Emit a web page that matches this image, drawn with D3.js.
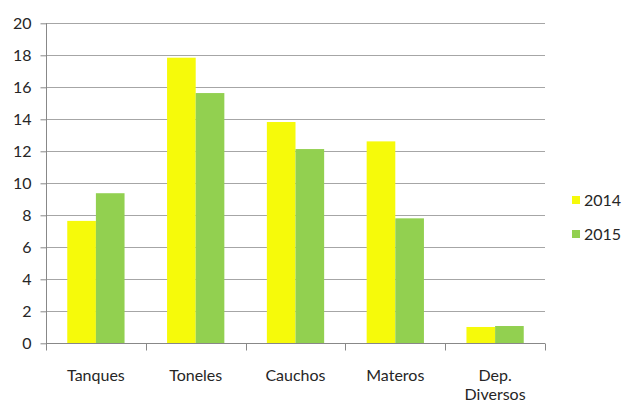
<!DOCTYPE html>
<html><head><meta charset="utf-8">
<script src="https://cdn.jsdelivr.net/npm/d3@7"></script>
<style>body{margin:0;background:#fff}svg{display:block}</style>
</head><body>
<svg id="c" width="623" height="408"></svg>
<script>
const categories = ["Tanques", "Toneles", "Cauchos", "Materos", "Dep. Diversos"];
const series2014 = [7.65, 17.85, 13.83, 12.62, 1.02];
const series2015 = [9.38, 15.64, 12.14, 7.81, 1.08];
const seriesNames = ["2014", "2015"];
const colors = ["#f6fa0a", "#92d050"];
const yTicks = [0, 2, 4, 6, 8, 10, 12, 14, 16, 18, 20];

const svg = d3.select("#c");
const font = "Lato, 'Open Sans', sans-serif";
const fs = 16;
const m = {left: 46, right: 545, top: 23.3, bottom: 343.3};

const x = d3.scaleBand().domain(categories).range([m.left, m.right]).paddingInner(0).paddingOuter(0);
const y = d3.scaleLinear().domain([0, 20]).range([m.bottom, m.top]);
const groupW = x.bandwidth() * 0.574;
const xs = d3.scaleBand().domain(seriesNames).range([0, groupW]);

// gridlines
svg.append("g").selectAll("line").data(yTicks.filter(d => d > 0)).join("line")
  .attr("x1", m.left).attr("x2", m.right)
  .attr("y1", d => Math.round(y(d)) + 0.5).attr("y2", d => Math.round(y(d)) + 0.5)
  .attr("stroke", "#a6a6a6").attr("stroke-width", 1);

// bars
const data = categories.map((c, i) => ({c, vals: [series2014[i], series2015[i]]}));
const g = svg.append("g");
data.forEach(d => {
  d.vals.forEach((v, j) => {
    g.append("rect")
      .attr("x", x(d.c) + (x.bandwidth() - groupW) / 2 + xs(seriesNames[j]))
      .attr("width", xs.bandwidth())
      .attr("y", y(v)).attr("height", y(0) - y(v))
      .attr("fill", colors[j]);
  });
});

// y axis
const yAxis = d3.axisLeft(y).tickValues(yTicks).tickSize(6).tickPadding(9);
const ya = svg.append("g").attr("transform", `translate(${m.left + 0.5},0)`).call(yAxis);
ya.select(".domain").attr("stroke", "#888").attr("d", `M0,${m.top}V${m.bottom}`);
ya.selectAll(".tick line").attr("stroke", "#888");
ya.selectAll(".tick text").attr("font-family", font).attr("font-size", fs).attr("fill", "#262626");

// x axis
const xa = svg.append("g").attr("transform", `translate(0,${Math.round(m.bottom) + 0.5})`);
xa.append("line").attr("x1", m.left).attr("x2", m.right).attr("stroke", "#888");
const bounds = categories.map(c => x(c)).concat([m.right]);
xa.selectAll("line.t").data(bounds).join("line").attr("class", "t")
  .attr("x1", d => Math.round(d) + 0.5).attr("x2", d => Math.round(d) + 0.5)
  .attr("y1", 0).attr("y2", 7).attr("stroke", "#888");
categories.forEach(c => {
  const words = c === "Dep. Diversos" ? ["Dep.", "Diversos"] : [c];
  const t = xa.append("text").attr("text-anchor", "middle")
    .attr("font-family", font).attr("font-size", fs).attr("fill", "#262626");
  words.forEach((w, k) => t.append("tspan").attr("x", x(c) + x.bandwidth() / 2).attr("y", 37.5 + k * 19).text(w));
});

// legend
seriesNames.forEach((s, i) => {
  const ly = 200 + i * 34;
  svg.append("rect").attr("x", 572).attr("y", ly - 4).attr("width", 8).attr("height", 8).attr("fill", colors[i]);
  svg.append("text").attr("x", 584).attr("y", ly + 6).attr("font-family", font).attr("font-size", fs)
    .attr("fill", "#262626").text(s);
});
</script>
</body></html>
